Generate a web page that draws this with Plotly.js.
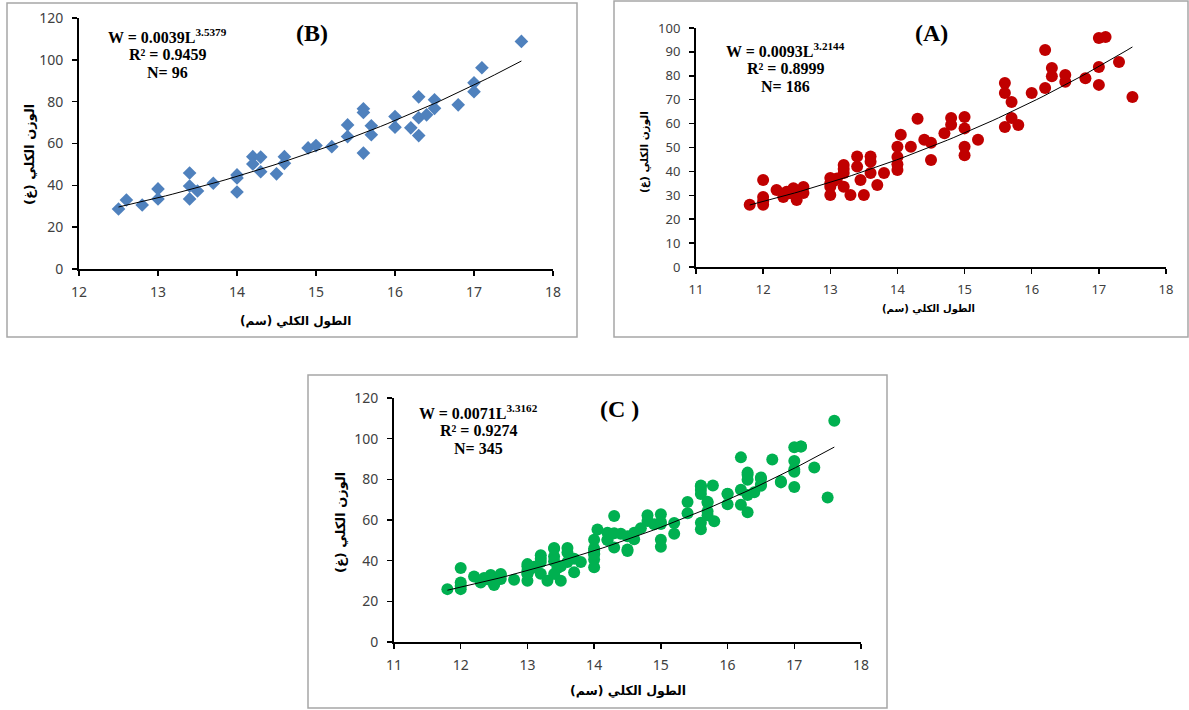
<!DOCTYPE html>
<html>
<head>
<meta charset="utf-8">
<script src="https://cdn.plot.ly/plotly-3.0.1.min.js"></script>
<style>html,body{margin:0;padding:0;background:#fff;}#chart{width:1189px;height:710px;}</style>
</head>
<body>
<div id="chart"></div>
<script>
// ---------------- DATA ----------------
// Panel B (diamonds, blue)
const lengthB = [12.5,12.6,12.8,13.0,13.0,13.4,13.4,13.4,13.5,13.7,14.0,14.0,14.0,14.2,14.2,14.3,14.3,14.5,14.6,14.6,14.9,15.0,15.2,15.4,15.4,15.6,15.6,15.6,15.7,15.7,16.0,16.0,16.2,16.3,16.3,16.3,16.4,16.5,16.5,16.8,17.0,17.0,17.1,17.6];
const weightB = [28.7,33.0,30.6,38.3,33.5,45.9,39.7,33.5,37.3,41.0,45.0,43.5,36.8,53.7,50.2,53.5,46.5,45.5,53.7,50.5,57.9,59.0,58.5,68.9,63.3,76.6,74.8,55.4,68.5,64.2,72.9,67.8,67.5,82.3,63.8,72.3,73.7,80.9,76.8,78.5,89.0,84.8,96.2,108.8];
// Panel A (circles, red)
const lengthA = [11.8,12.0,12.0,12.0,12.0,12.2,12.3,12.35,12.4,12.45,12.5,12.5,12.6,12.6,13.0,13.0,13.0,13.0,13.05,13.1,13.2,13.2,13.2,13.2,13.3,13.4,13.4,13.45,13.5,13.6,13.6,13.6,13.7,13.8,14.0,14.0,14.0,14.0,14.05,14.3,14.2,14.4,14.5,14.5,14.7,14.8,14.8,15.0,15.0,15.0,15.0,15.2,15.6,15.6,15.7,15.6,15.7,15.8,16.0,16.2,16.2,16.3,16.3,16.5,16.5,16.8,17.0,17.1,17.0,17.0,17.3,17.5];
const weightA = [26.0,36.4,29.3,26.0,27.5,32.2,29.3,31.5,30.9,33.0,28.0,31.4,33.5,31.0,37.2,35.0,33.6,30.1,36.0,37.0,39.3,42.7,33.6,41.0,30.1,46.2,42.0,36.4,30.1,39.3,44.0,46.2,34.3,39.3,40.6,43.0,46.0,50.3,55.3,62.0,50.3,53.2,52.0,44.8,56.0,62.3,59.5,62.8,58.0,50.3,46.8,53.2,77.0,72.8,69.0,58.6,62.3,59.4,72.8,90.8,74.9,83.3,79.8,80.3,77.5,79.0,95.8,96.2,83.7,76.2,85.8,71.1];
// Panel C extra points only visible in pooled panel
const lengthCextra = [16.67,15.78];
const weightCextra = [89.7,77.0];
// Fitted equations W = a L^b
const fitB = {a:0.0039, b:3.5379, r2:'0.9459', n:'96'};
const fitA = {a:0.0093, b:3.2144, r2:'0.8999', n:'186'};
const fitC = {a:0.0071, b:3.3162, r2:'0.9274', n:'345'};
const xTitle = 'الطول الكلي (سم)';
const yTitle = 'الوزن الكلي (غ)';

const lengthC = lengthA.concat(lengthB, lengthCextra);
const weightC = weightA.concat(weightB, weightCextra);

// ---------------- HELPERS ----------------
const W = 1189, H = 710;
const fx = p => p / W;
const fy = p => 1 - p / H;

function fitLine(xs, fit) {
  const lo = Math.min(...xs), hi = Math.max(...xs);
  const x = [], y = [];
  for (let i = 0; i <= 60; i++) {
    const L = lo + (hi - lo) * i / 60;
    x.push(L); y.push(fit.a * Math.pow(L, fit.b));
  }
  return {x, y};
}

const lB = fitLine(lengthB, fitB), lA = fitLine(lengthA, fitA), lC = fitLine(lengthC, fitC);

const traces = [
  {x: lengthB, y: weightB, type:'scatter', mode:'markers', xaxis:'x', yaxis:'y',
   marker:{symbol:'diamond', size:10.5, color:'#4F81BD'}},
  {x: lB.x, y: lB.y, type:'scatter', mode:'lines', xaxis:'x', yaxis:'y', line:{color:'#000', width:1}},
  {x: lengthA, y: weightA, type:'scatter', mode:'markers', xaxis:'x2', yaxis:'y2',
   marker:{symbol:'circle', size:12, color:'#C00000'}},
  {x: lA.x, y: lA.y, type:'scatter', mode:'lines', xaxis:'x2', yaxis:'y2', line:{color:'#000', width:1}},
  {x: lengthC, y: weightC, type:'scatter', mode:'markers', xaxis:'x3', yaxis:'y3',
   marker:{symbol:'circle', size:12, color:'#00B050'}},
  {x: lC.x, y: lC.y, type:'scatter', mode:'lines', xaxis:'x3', yaxis:'y3', line:{color:'#000', width:1}}
];

function xax(dom, anchor, range, fs) {
  return {domain: dom, anchor: anchor, range: range, dtick: 1, showgrid:false, zeroline:false,
    showline:true, linecolor:'#000', linewidth:2, ticks:'outside', ticklen:5, tickwidth:1.5, tickcolor:'#000',
    ticklabelstandoff: 4, tickfont:{family:'Noto Sans', size:fs, color:'#404040'}, fixedrange:true};
}
function yax(dom, anchor, range, dt, fs) {
  return {domain: dom, anchor: anchor, range: range, dtick: dt, showgrid:false, zeroline:false,
    showline:true, linecolor:'#000', linewidth:2, ticks:'outside', ticklen:5, tickwidth:1.5, tickcolor:'#000',
    ticklabelstandoff: 6, tickfont:{family:'Noto Sans', size:fs, color:'#404040'}, fixedrange:true};
}

function ann(text, x, y, size, opts) {
  return Object.assign({text: text, xref:'paper', yref:'paper', x: fx(x), y: fy(y),
    xanchor:'center', yanchor:'middle', showarrow:false,
    font:{family:'Liberation Serif', size:size, color:'#000', weight:'bold'}}, opts || {});
}
function eqAnn(fit, cx, y0) {
  return [
    ann('W = ' + fit.a.toFixed(4) + 'L<sup>' + fit.b.toFixed(4) + '</sup>', cx, y0, 16),
    ann('R² = ' + fit.r2, cx, y0 + 18.5, 16),
    ann('N= ' + fit.n, cx, y0 + 36.5, 16)
  ];
}
function arabic(text, x, y, size, angle) {
  return ann(text, x, y, size, {textangle: angle || 0,
    font:{family:'DejaVu Sans', size:size, color:'#000', weight:'bold'}});
}

const annotations = [].concat(
  eqAnn(fitB, 167, 36),
  [ann('(B)', 312, 33, 24)],
  eqAnn(fitA, 785, 50),
  [ann('(A)', 931, 33, 24)],
  eqAnn(fitC, 478, 412),
  [ann('(C )', 619, 409, 24)],
  [arabic(xTitle, 295, 321, 12), arabic(yTitle, 30, 155, 13, -90),
   arabic(xTitle, 928, 309, 10), arabic(yTitle, 645, 152, 10.5, -90),
   arabic(xTitle, 628, 690, 12.5), arabic(yTitle, 340, 523, 13, -90)]
);

function frame(x0, y0, x1, y1) {
  return {type:'rect', xref:'paper', yref:'paper', x0: fx(x0), x1: fx(x1), y0: fy(y1), y1: fy(y0),
    line:{color:'#A6A6A6', width:1.5}, fillcolor:'rgba(0,0,0,0)', layer:'below'};
}

const layout = {
  width: W, height: H, margin:{l:0, r:0, t:0, b:0},
  paper_bgcolor:'#fff', plot_bgcolor:'rgba(0,0,0,0)', showlegend:false,
  xaxis: xax([fx(79), fx(553)], 'y', [12, 18], 14),
  yaxis: yax([fy(269), fy(18)], 'x', [0, 120], 20, 14),
  xaxis2: xax([fx(696), fx(1166)], 'y2', [11, 18], 13),
  yaxis2: yax([fy(267), fy(28)], 'x2', [0, 100], 10, 13),
  xaxis3: xax([fx(394), fx(861)], 'y3', [11, 18], 14),
  yaxis3: yax([fy(642), fy(398)], 'x3', [0, 120], 20, 14),
  annotations: annotations,
  shapes: [frame(7, 3, 577, 337), frame(614, 1, 1188, 337), frame(308, 375, 887, 708)]
};

Plotly.newPlot('chart', traces, layout, {displayModeBar:false, staticPlot:true});
</script>
</body>
</html>
